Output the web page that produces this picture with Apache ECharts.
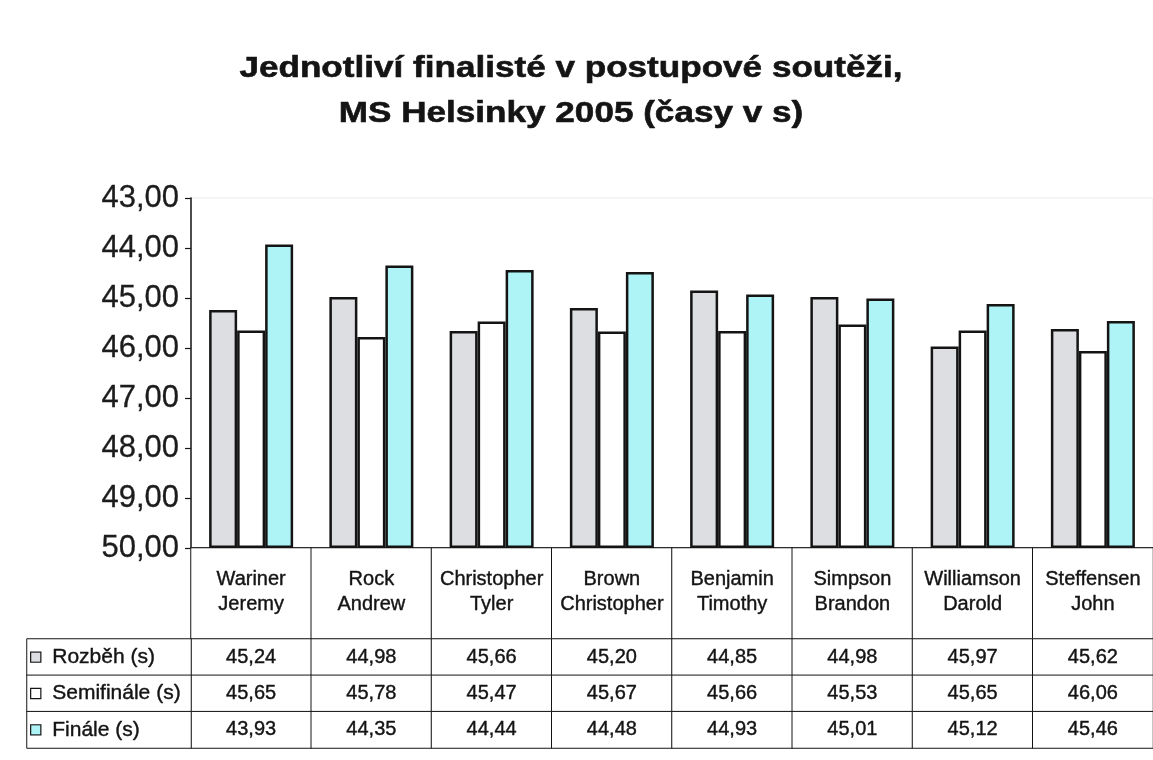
<!DOCTYPE html>
<html lang="cs">
<head>
<meta charset="utf-8">
<title>Jednotliví finalisté v postupové soutěži</title>
<script src="https://cdn.jsdelivr.net/npm/echarts@6/dist/echarts.min.js"></script>
<style>
  html, body { margin: 0; padding: 0; background: #ffffff; }
  #chart { width: 1153px; height: 760px; }
</style>
</head>
<body>
<div id="chart"></div>
<script>
// Finalisté (příjmení + jméno) – popisky kategorií
const athletes = ['Wariner\nJeremy', 'Rock\nAndrew', 'Christopher\nTyler', 'Brown\nChristopher',
                  'Benjamin\nTimothy', 'Simpson\nBrandon', 'Williamson\nDarold', 'Steffensen\nJohn'];
// Časy v sekundách
const rozbeh     = [45.24, 44.98, 45.66, 45.20, 44.85, 44.98, 45.97, 45.62];
const semifinale = [45.65, 45.78, 45.47, 45.67, 45.66, 45.53, 45.65, 46.06];
const finale     = [43.93, 44.35, 44.44, 44.48, 44.93, 45.01, 45.12, 45.46];
const roundNames = ['Rozběh (s)', 'Semifinále (s)', 'Finále (s)'];
// Osa y: od nejlepšího času nahoře k nejhoršímu dole
const axisMin = 43;
const axisMax = 50;
const axisStep = 1;
const titleLines = ['Jednotliví finalisté v postupové soutěži,', 'MS Helsinky 2005 (časy v s)'];

const rounds = [rozbeh, semifinale, finale];
const roundColors = ['#dcdee2', '#ffffff', '#aef4f7'];
const ink = '#141414';
const FONT = '"Liberation Sans", Arial, sans-serif';
const fmt = v => v.toFixed(2).replace('.', ',');

const chart = echarts.init(document.getElementById('chart'), null, { renderer: 'canvas' });

const barSeries = rounds.map((vals, r) => ({
  type: 'bar',
  name: roundNames[r],
  xAxisIndex: 0,
  yAxisIndex: 0,
  data: vals,
  barWidth: 28,
  barGap: '0%',
  itemStyle: { color: roundColors[r], borderColor: ink, borderWidth: 2.5 },
  emphasis: { disabled: true }
}));

// Tabulka hodnot pod grafem
const valueCells = [];
rounds.forEach((vals, r) => vals.forEach((v, i) => valueCells.push([i, r, v])));

const cellStyle = { color: '#ffffff', borderColor: ink, borderWidth: 1 };
const heavy = { textBorderColor: ink, textBorderWidth: 0.4 };

const option = {
  animation: false,
  backgroundColor: '#ffffff',
  textStyle: { fontFamily: FONT },
  graphic: titleLines.map((t, i) => ({
    type: 'text',
    x: 571,
    y: 69 + i * 45,
    scaleX: 1.17,
    style: {
      text: t,
      fontFamily: FONT,
      fontSize: 30,
      fontWeight: 'bold',
      fill: ink,
      stroke: ink,
      lineWidth: 0.6,
      align: 'center',
      verticalAlign: 'middle',
      textAlign: 'center',
      textVerticalAlign: 'middle'
    }
  })),
  grid: [
    { left: 191, top: 198, width: 967, height: 350, show: true, borderColor: '#ececec', borderWidth: 1 },
    { left: 191, top: 548, width: 967, height: 91 },
    { left: 191, top: 639, width: 967, height: 109 },
    { left: 27, top: 639, width: 164, height: 109 }
  ],
  xAxis: [
    {
      gridIndex: 0, type: 'category', data: athletes, position: 'bottom',
      axisLine: { onZero: false, lineStyle: { color: ink, width: 1.5 } },
      axisTick: { show: false }, axisLabel: { show: false }
    },
    { gridIndex: 1, type: 'category', data: athletes, show: false },
    { gridIndex: 2, type: 'category', data: athletes, show: false },
    { gridIndex: 3, type: 'category', data: ['popis'], show: false }
  ],
  yAxis: [
    {
      gridIndex: 0, type: 'value', inverse: true,
      min: axisMin, max: axisMax, interval: axisStep, startValue: axisMax,
      axisLine: { show: true, lineStyle: { color: ink, width: 1.5 } },
      axisTick: { show: true, length: 6, lineStyle: { color: ink, width: 1.2 } },
      axisLabel: { formatter: v => fmt(v), fontSize: 31, color: '#1c1c1c', margin: 12, fontFamily: FONT,
                   textBorderColor: '#1c1c1c', textBorderWidth: 0.3 },
      splitLine: { show: false }
    },
    { gridIndex: 1, type: 'category', data: ['jména'], show: false },
    { gridIndex: 2, type: 'category', data: roundNames, inverse: true, show: false },
    { gridIndex: 3, type: 'category', data: roundNames, inverse: true, show: false }
  ],
  series: [
    ...barSeries,
    {
      type: 'heatmap', xAxisIndex: 1, yAxisIndex: 1,
      data: athletes.map((_, i) => [i, 0, 0]),
      itemStyle: cellStyle,
      emphasis: { disabled: true },
      label: {
        show: true, color: ink, fontSize: 20, lineHeight: 25, fontFamily: FONT,
        offset: [0, -2], ...heavy,
        formatter: p => athletes[p.data[0]]
      }
    },
    {
      type: 'heatmap', xAxisIndex: 2, yAxisIndex: 2,
      data: valueCells,
      itemStyle: cellStyle,
      emphasis: { disabled: true },
      label: {
        show: true, color: ink, fontSize: 20, fontFamily: FONT, ...heavy,
        formatter: p => fmt(p.data[2])
      }
    },
    {
      type: 'heatmap', xAxisIndex: 3, yAxisIndex: 3,
      data: roundNames.map((_, r) => [0, r, r]),
      itemStyle: cellStyle,
      emphasis: { disabled: true },
      label: {
        show: true, position: 'insideLeft', distance: 5,
        formatter: p => `{k${p.data[1]}|}{t|${roundNames[p.data[1]]}}`,
        rich: {
          k0: { width: 9, height: 9, backgroundColor: roundColors[0], borderColor: ink, borderWidth: 1.2, verticalAlign: 'middle' },
          k1: { width: 9, height: 9, backgroundColor: roundColors[1], borderColor: ink, borderWidth: 1.2, verticalAlign: 'middle' },
          k2: { width: 9, height: 9, backgroundColor: roundColors[2], borderColor: ink, borderWidth: 1.2, verticalAlign: 'middle' },
          t: { fontSize: 21, color: ink, fontFamily: FONT, padding: [0, 0, 0, 12], verticalAlign: 'middle', ...heavy }
        }
      }
    }
  ]
};

chart.setOption(option);
</script>
</body>
</html>
